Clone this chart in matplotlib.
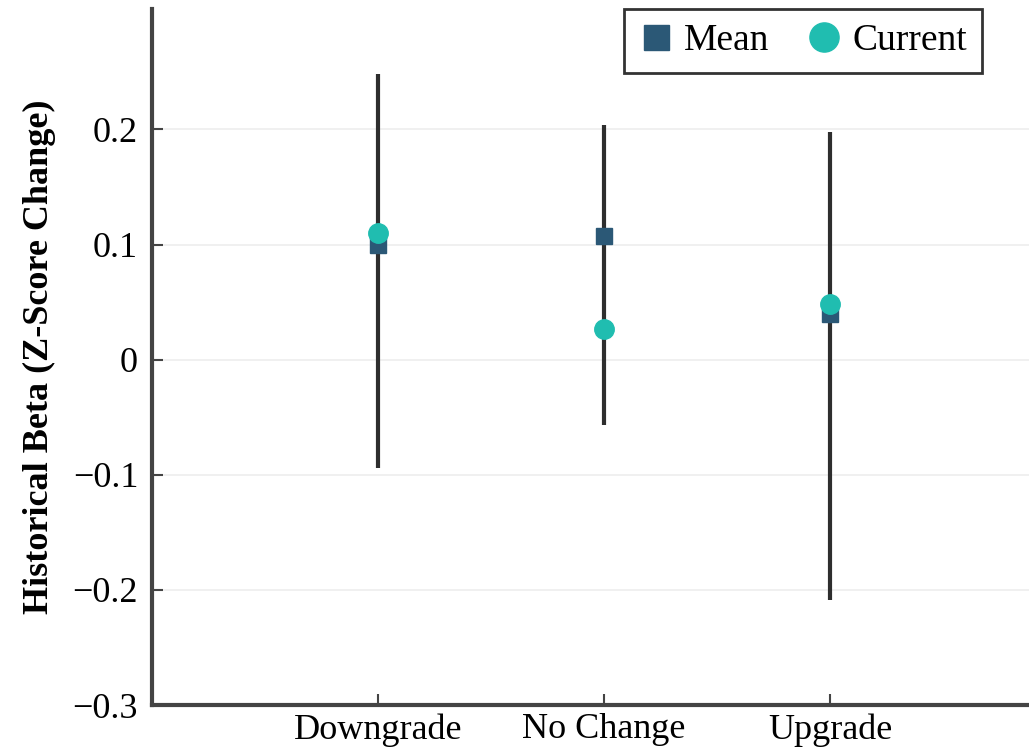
import matplotlib.pyplot as plt
import numpy as np

# values
categories = ["Downgrade", "No Change", "Upgrade"]
mean_beta = [0.100, 0.107, 0.040]
current_beta = [0.110, 0.027, 0.048]
range_low = [-0.094, -0.057, -0.209]
range_high = [0.248, 0.204, 0.198]
yticks = [-0.3, -0.2, -0.1, 0, 0.1, 0.2]
ytick_labels = ["\u22120.3", "\u22120.2", "\u22120.1", "0", "0.1", "0.2"]

plt.rcParams['font.family'] = ['Liberation Serif', 'DejaVu Serif']

fig = plt.figure(figsize=(10.29, 7.53), dpi=100)
ax = fig.add_axes([0.1477, 0.0637, 0.8523, 0.925])

x = np.arange(1, len(categories) + 1)
mean = np.array(mean_beta)
low = mean - np.array(range_low)
high = np.array(range_high) - mean

ax.errorbar(x, mean, yerr=[low, high], fmt='none', ecolor='#2e2e2e',
            elinewidth=3, capsize=0, zorder=2)
ax.plot(x, mean, 's', color='#2b5876', markersize=12, label='Mean', zorder=3)
ax.plot(x, current_beta, 'o', color='#20bdb0', markersize=14,
        label='Current', zorder=4)

ax.set_xlim(0, 3.88)
ax.set_ylim(-0.3, 0.305)
ax.set_xticks(x)
ax.set_xticklabels(categories, fontsize=26)
ax.set_yticks(yticks)
ax.set_yticklabels(ytick_labels, fontsize=26)
ax.tick_params(direction='in', length=8, width=1.5, color='#444444', pad=10)
ax.tick_params(axis='x', pad=6)
ax.set_ylabel("Historical Beta (Z-Score Change)", fontsize=26,
              fontweight='bold', labelpad=12)

ax.grid(axis='y', color='#eeeeee', lw=1.2)
ax.set_axisbelow(True)
for s in ['top', 'right']:
    ax.spines[s].set_visible(False)
for s in ['left', 'bottom']:
    ax.spines[s].set_linewidth(3)
    ax.spines[s].set_color('#444444')

leg = ax.legend(loc='upper right', ncol=2, fontsize=27, frameon=True,
                fancybox=False, edgecolor='black', handletextpad=0.3,
                columnspacing=1.0, handlelength=0.9, borderpad=0.4,
                markerscale=1.5, borderaxespad=0,
                bbox_to_anchor=(0.946, 1.0))
leg.get_frame().set_linewidth(2)

fig.savefig("out.png", dpi=100)
